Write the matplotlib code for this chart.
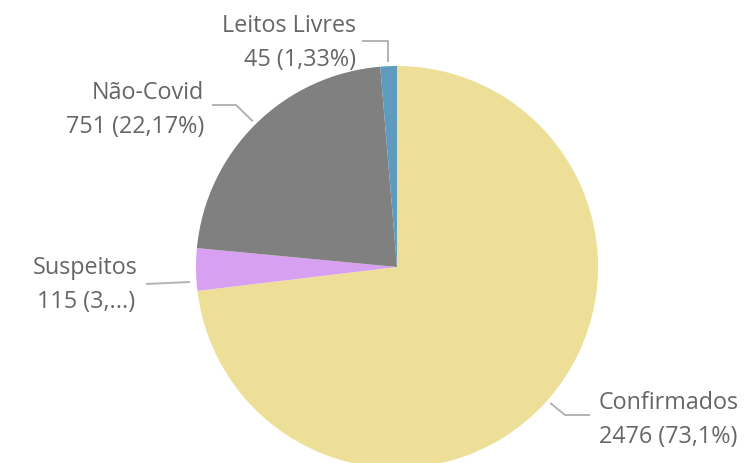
import matplotlib
matplotlib.use("Agg")
import matplotlib.pyplot as plt
import numpy as np

categories = ["Confirmados", "Suspeitos", "Não-Covid", "Leitos Livres"]
values = [2476, 115, 751, 45]
value_labels = ["2476 (73,1%)", "115 (3,...)", "751 (22,17%)", "45 (1,33%)"]
colors = ["#EEDF98", "#D8A0F0", "#808080", "#5F9BBC"]

W, H = 747, 463
fig = plt.figure(figsize=(W / 100, H / 100), dpi=100)
ax = fig.add_axes([0, 0, 1, 1])

cx, cy, R = 397, H - 267, 201
wedges, _ = ax.pie(values, colors=colors, startangle=90, counterclock=False,
                   center=(cx, cy), radius=R, frame=True,
                   wedgeprops=dict(linewidth=0))
ax.set_xlim(0, W)
ax.set_ylim(0, H)
ax.set_aspect("equal")
ax.axis("off")

txt_color = "#666666"
line_color = "#B3B3B3"
fs = 16.8
font = "Open Sans"

# label layouts: (elbow point, end point, text x, text y, ha) in pixel coords (y from top)
layout = {
    "Confirmados": ((565, 415), (590, 415), 599, 420, "left"),
    "Suspeitos": ((170, 283), (146, 284), 138, 285, "right"),
    "Não-Covid": ((236, 105), (212, 105), 204, 110, "right"),
    "Leitos Livres": (None, (362, 41), 356, 43, "right"),
}

for w, cat, vl in zip(wedges, categories, value_labels):
    ang = np.deg2rad((w.theta1 + w.theta2) / 2)
    sx = cx + (R + 4) * np.cos(ang)
    sy = cy + (R + 4) * np.sin(ang)
    elbow, end, tx, ty, ha = layout[cat]
    if cat == "Leitos Livres":
        elbow = (sx, end[1])
        xs = [sx, elbow[0], end[0]]
        ys = [sy, H - elbow[1], H - end[1]]
    elif cat == "Suspeitos":
        xs = [sx - 2, end[0]]
        ys = [H - 282, H - end[1]]
    else:
        xs = [sx, elbow[0], end[0]]
        ys = [sy, H - elbow[1], H - end[1]]
    ax.plot(xs, ys, color=line_color, lw=1.4, solid_capstyle="butt")
    ax.text(tx, H - ty, cat + "\n" + vl, ha=ha, va="center", fontsize=fs,
            color=txt_color, family=font, linespacing=1.55,
            multialignment="center" if cat == "Suspeitos" else ha)

fig.savefig("out.png", dpi=100)
